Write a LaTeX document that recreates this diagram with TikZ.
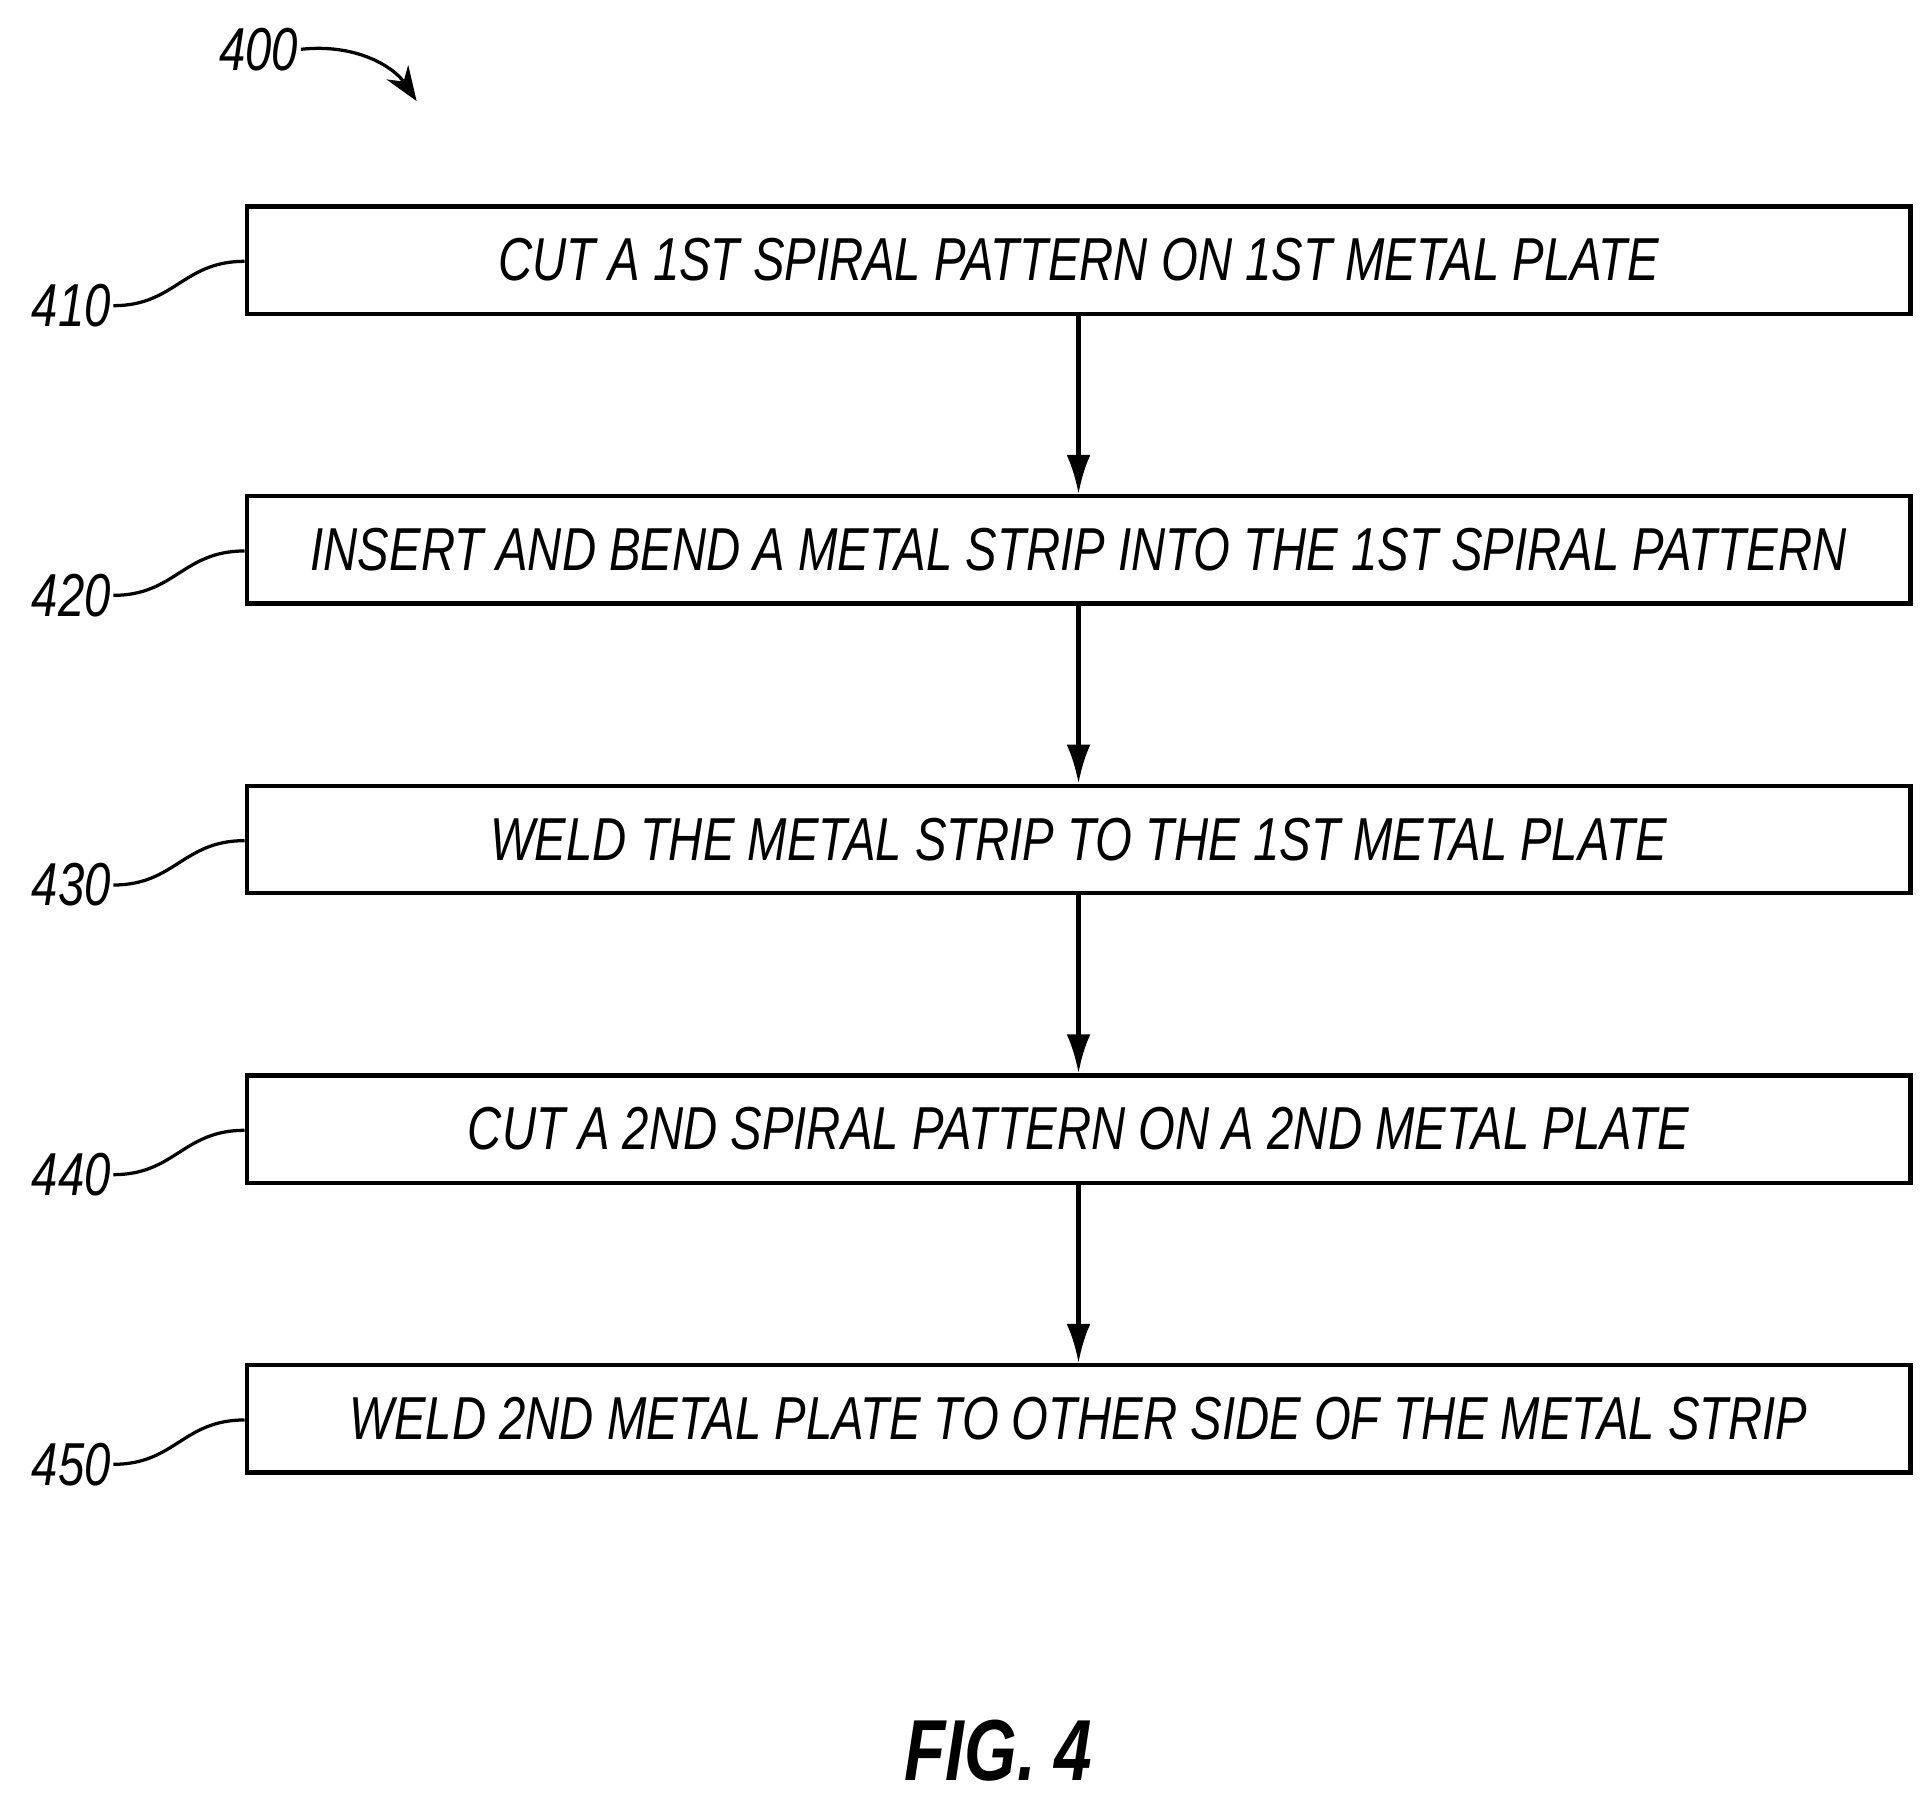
\documentclass[tikz,border=0pt]{standalone}
\usepackage{fontspec}
\setmainfont{Liberation Sans}
\usetikzlibrary{arrows.meta}
\begin{document}
\begin{tikzpicture}[x=0.02cm,y=-0.02cm,
 box/.style={draw,line width=2pt,minimum width=27cm,minimum height=1.74cm,inner sep=0pt,font=\fontsize{28}{30}\selectfont\itshape},
 lab/.style={font=\fontsize{28}{30}\selectfont\itshape,inner sep=1pt},
 arr/.style={line width=2pt,-{Latex[length=18pt,width=11pt]}},
 lead/.style={line width=1.5pt}]
\useasboundingbox (0,0) rectangle (1565,1461);
\newcommand{\sq}[1]{\scalebox{0.78}[1]{#1}}
\node[box] (b1) at (875,211) {\sq{CUT A 1ST SPIRAL PATTERN ON 1ST METAL PLATE}};
\node[box] (b2) at (875,446) {\sq{INSERT AND BEND A METAL STRIP INTO THE 1ST SPIRAL PATTERN}};
\node[box] (b3) at (875,681) {\sq{WELD THE METAL STRIP TO THE 1ST METAL PLATE}};
\node[box] (b4) at (875,916) {\sq{CUT A 2ND SPIRAL PATTERN ON A 2ND METAL PLATE}};
\node[box] (b5) at (875,1151) {\sq{WELD 2ND METAL PLATE TO OTHER SIDE OF THE METAL STRIP}};
\foreach \a/\b in {b1/b2,b2/b3,b3/b4,b4/b5} \draw[arr] (\a) -- (\b);
\foreach \i/\n in {1/410,2/420,3/430,4/440,5/450}{
 \node[lab,anchor=east] (l\n) at (92,{248+235*(\i-1)}) {\sq{\n}};
 \draw[lead] (l\n.east) .. controls ++(50,0) and ++(-50,0) .. (b\i.west|-{0,{212+235*(\i-1)}});
}
\node[lab] (l400) at (210,40) {\sq{400}};
\coordinate (t400) at (338,82);
\draw[line width=1.5pt,-{Stealth[length=16pt,width=12pt]}] (l400.east) .. controls (290,35) and (320,55) .. (t400);
\node[font=\fontsize{40}{44}\selectfont\bfseries\itshape] (fig) at (810,1420) {\sq{FIG. 4}};
\end{tikzpicture}
\end{document}
